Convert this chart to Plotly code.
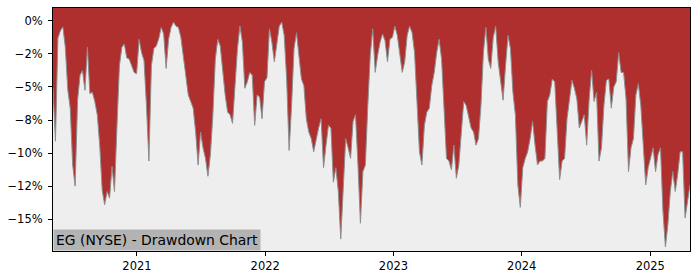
import pandas as pd
import plotly.graph_objects as go

# Weekly drawdown (%) of EG (NYSE)
start_date = "2020-05-07"
drawdown = [
    -5.1, -9.1, -1.3, -0.75, -0.45, -2.0, -5.2, -6.6, -10.9, -12.5,
    -6.0, -4.1, -3.75, -5.25, -2.0, -5.5, -5.4, -6.1, -7.1, -9.4,
    -12.8, -13.9, -12.9, -13.4, -11.0, -12.9, -8.0, -3.4, -2.0, -1.75,
    -2.8, -2.9, -3.4, -3.9, -4.0, -1.4, -2.4, -3.0, -6.4, -10.6,
    -3.4, -2.1, -1.9, -1.35, -0.5, -1.0, -3.6, -1.4, -0.5, -0.1,
    -0.4, -0.5, -1.25, -2.6, -3.9, -5.6, -6.1, -6.6, -8.4, -10.9,
    -8.4, -9.6, -10.4, -11.75, -10.1, -7.1, -2.9, -1.4, -1.9, -3.9,
    -5.6, -6.9, -7.1, -7.75, -5.1, -2.1, -0.4, -1.6, -5.1, -4.6,
    -3.9, -4.1, -7.9, -5.6, -5.75, -7.4, -4.6, -4.3, -0.6, -1.6,
    -3.1, -1.9, -0.4, -0.1, -1.1, -4.4, -9.8, -6.4, -2.1, -0.9,
    -2.6, -4.4, -4.9, -7.4, -8.4, -8.9, -9.9, -8.9, -8.1, -7.4,
    -11.1, -9.4, -7.9, -8.1, -12.2, -11.1, -12.9, -16.5, -12.9, -8.9,
    -9.6, -10.4, -7.6, -7.1, -10.9, -15.3, -11.4, -10.9, -6.4, -2.6,
    -0.6, -3.9, -2.6, -1.6, -1.0, -1.5, -3.1, -1.4, -1.25, -0.4,
    -1.1, -2.6, -3.9, -3.1, -1.1, -0.4, -0.9, -2.4, -6.4, -9.9,
    -10.9, -7.9, -6.9, -6.6, -4.9, -3.9, -2.4, -1.4, -2.9, -7.1,
    -10.4, -10.6, -11.25, -9.4, -11.9, -10.9, -8.4, -6.1, -6.4, -7.4,
    -8.1, -8.4, -9.4, -8.9, -6.4, -2.4, -0.5, -2.9, -3.6, -1.25,
    -0.4, -3.1, -4.6, -6.0, -3.4, -1.1, -2.1, -5.4, -7.1, -12.4,
    -14.1, -11.1, -10.4, -9.9, -8.9, -7.6, -9.4, -10.9, -10.6, -10.6,
    -10.4, -6.1, -5.6, -4.4, -4.6, -8.6, -12.0, -10.6, -10.4, -7.4,
    -5.9, -4.5, -5.1, -5.9, -8.1, -7.6, -7.1, -9.4, -5.9, -3.75,
    -6.1, -5.4, -10.6, -9.6, -6.4, -4.5, -4.4, -6.6, -5.0, -4.6,
    -2.4, -3.9, -3.9, -5.9, -11.4, -9.6, -8.9, -5.6, -4.75, -6.4,
    -9.9, -12.4, -11.1, -10.4, -9.6, -11.4, -10.1, -9.6, -14.4, -17.1,
    -15.4, -12.9, -11.4, -12.9, -11.6, -9.9, -9.9, -14.9, -13.6, -12.4,
]
dates = pd.date_range(start_date, periods=len(drawdown), freq="7D")

y_range = [-17.4, 0.97]
y_tickvals = [0, -2.5, -5, -7.5, -10, -12.5, -15]
y_ticktext = ["0%", "\u22122%", "\u22125%", "\u22128%", "\u221210%", "\u221212%", "\u221215%"]
x_tickvals = ["2021-01-01", "2022-01-01", "2023-01-01", "2024-01-01", "2025-01-01"]
x_ticktext = ["2021", "2022", "2023", "2024", "2025"]
title_text = "EG (NYSE) - Drawdown Chart"

RED = "#af2f2f"
BG = "#eeeeee"

fig = go.Figure()
# curve (no fill) as the lower boundary
fig.add_trace(go.Scatter(x=dates, y=drawdown, mode="lines",
                         line=dict(width=0, color=RED), hoverinfo="skip", showlegend=False))
# top boundary: fill between top of axis and the curve in red
fig.add_trace(go.Scatter(x=dates, y=[y_range[1] + 1] * len(dates), mode="lines",
                         line=dict(width=0, color=RED), fill="tonexty", fillcolor=RED,
                         hoverinfo="skip", showlegend=False))
# thin grey edge line
fig.add_trace(go.Scatter(x=dates, y=drawdown, mode="lines",
                         line=dict(width=1, color="#8e8e8e"), hoverinfo="skip", showlegend=False))

fig.update_layout(
    width=700, height=280,
    margin=dict(l=53, r=10, t=7, b=28),
    paper_bgcolor="white", plot_bgcolor=BG,
    font=dict(family="DejaVu Sans", color="black", size=11.5),
    showlegend=False,
)
fig.update_xaxes(
    range=[dates[0], dates[-1]], tickmode="array", tickvals=x_tickvals, ticktext=x_ticktext,
    showgrid=False, zeroline=False, showline=True, linecolor="black", linewidth=1, mirror=True,
    ticks="outside", ticklen=4, tickcolor="black", tickfont=dict(size=11.5),
)
fig.update_yaxes(
    range=y_range, tickmode="array", tickvals=y_tickvals, ticktext=y_ticktext,
    showgrid=False, zeroline=False, showline=True, linecolor="black", linewidth=1, mirror=True,
    ticks="outside", ticklen=4, tickcolor="black", tickfont=dict(size=11.5),
    ticklabelstandoff=3,
)
fig.add_annotation(
    text=title_text, xref="paper", yref="paper", x=0, y=0,
    xanchor="left", yanchor="bottom", showarrow=False,
    font=dict(size=13.9, color="black", family="DejaVu Sans"),
    bgcolor="#b3b3b3", borderpad=2,
)

fig.write_html("out.html", config={"displayModeBar": False})
